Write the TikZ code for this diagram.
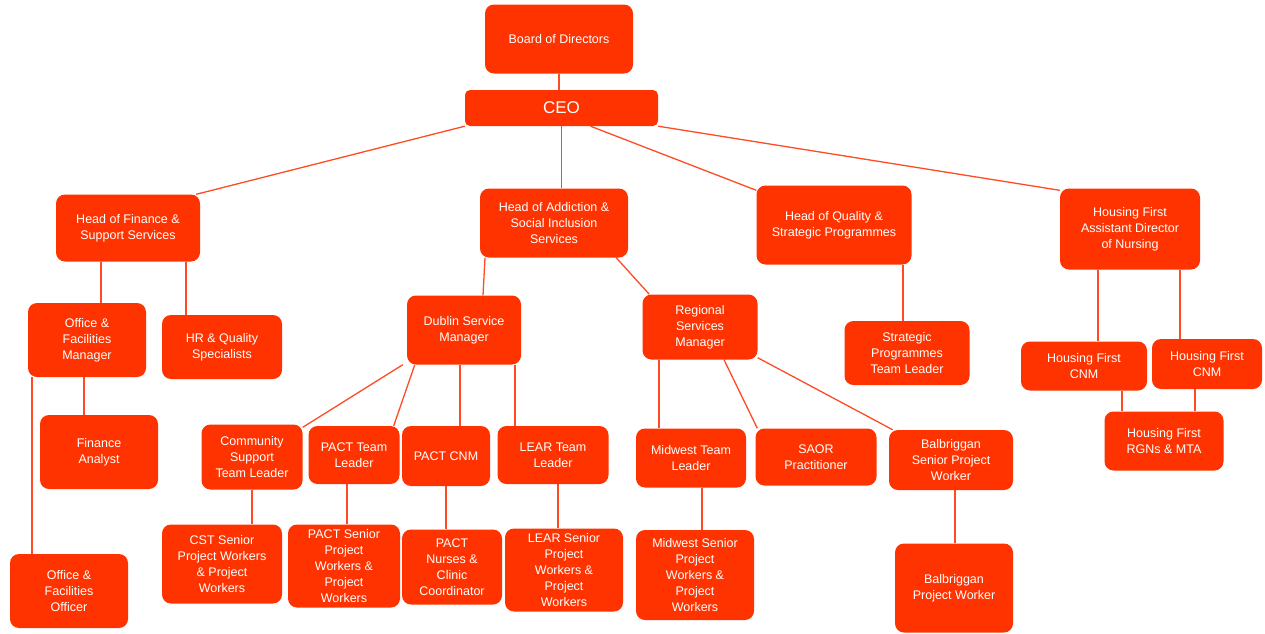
\documentclass[tikz,border=0pt]{standalone}
\usepackage{fontspec}
\setmainfont{Liberation Sans}
\usepackage{tikz}
\usetikzlibrary{positioning, backgrounds}
\definecolor{orgred}{RGB}{255,51,0}
\definecolor{orgline}{RGB}{255,75,35}

\begin{document}
\begin{tikzpicture}[
    x=1pt, y=-1pt,
    font=\fontsize{12.5}{16}\selectfont,
    box/.style={fill=orgred, text=white, rounded corners=9pt, inner sep=0pt, align=center},
    link/.style={draw=orgline, line width=1.3pt},
]
\useasboundingbox (0,0) rectangle (1265,633);

% Top
\node[box, minimum width=148, minimum height=69] (board) at (559,39) {Board of Directors};
\node[box, minimum width=193, minimum height=36, rounded corners=5pt, font=\fontsize{17}{20}\selectfont] (ceo) at (561.5,108) {CEO};

% Heads
\node[box, minimum width=144, minimum height=67] (fin) at (128,228) {Head of Finance \&\\Support Services};
\node[box, minimum width=148, minimum height=69] (addn) at (554,223) {Head of Addiction \&\\Social Inclusion\\Services};
\node[box, minimum width=155, minimum height=79] (qual) at (834,225) {Head of Quality \&\\Strategic Programmes};
\node[box, minimum width=140, minimum height=81] (hf) at (1130,229) {Housing First\\Assistant Director\\of Nursing};

% Finance side
\node[box, minimum width=118, minimum height=74] (offmgr) at (87,340) {Office \&\\Facilities\\Manager};
\node[box, minimum width=120, minimum height=64] (hrq) at (222,347) {HR \& Quality\\Specialists};
\node[box, minimum width=118, minimum height=74] (fa) at (99,452) {Finance\\Analyst};
\node[box, minimum width=118, minimum height=74] (offoff) at (69,591) {Office \&\\Facilities\\Officer};

% Addiction side
\node[box, minimum width=114, minimum height=69] (dublin) at (464,330) {Dublin Service\\Manager};
\node[box, minimum width=115, minimum height=65] (regional) at (700,327) {Regional\\Services\\Manager};

\node[box, minimum width=101, minimum height=65] (cst) at (252,457) {Community\\Support\\Team Leader};
\node[box, minimum width=91, minimum height=58] (pacttl) at (354,455) {PACT Team\\Leader};
\node[box, minimum width=88, minimum height=60] (pactcnm) at (446,456) {PACT CNM};
\node[box, minimum width=111, minimum height=58] (leartl) at (553,455) {LEAR Team\\Leader};

\node[box, minimum width=120, minimum height=79] (cstspw) at (222,564) {CST Senior\\Project Workers\\\& Project\\Workers};
\node[box, minimum width=112, minimum height=83] (pactspw) at (344,566) {PACT Senior\\Project\\Workers \&\\Project\\Workers};
\node[box, minimum width=100, minimum height=75] (nurses) at (452,567) {PACT\\Nurses \&\\Clinic\\Coordinator};
\node[box, minimum width=118, minimum height=83] (learspw) at (564,570) {LEAR Senior\\Project\\Workers \&\\Project\\Workers};

\node[box, minimum width=110, minimum height=59] (mwtl) at (691,458) {Midwest Team\\Leader};
\node[box, minimum width=121, minimum height=57] (saor) at (816,457) {SAOR\\Practitioner};
\node[box, minimum width=124, minimum height=60] (balbspw) at (951,460) {Balbriggan\\Senior Project\\Worker};
\node[box, minimum width=118, minimum height=90] (mwspw) at (695,575) {Midwest Senior\\Project\\Workers \&\\Project\\Workers};
\node[box, minimum width=118, minimum height=89] (balbpw) at (954,588) {Balbriggan\\Project Worker};

% Quality and Housing First
\node[box, minimum width=125, minimum height=64] (stratl) at (907,353) {Strategic\\Programmes\\Team Leader};
\node[box, minimum width=126, minimum height=49] (cnma) at (1084,366) {Housing First\\CNM};
\node[box, minimum width=110, minimum height=50] (cnmb) at (1207,364) {Housing First\\CNM};
\node[box, minimum width=119, minimum height=59] (rgn) at (1164,441) {Housing First\\RGNs \& MTA};

% Connectors
\begin{scope}[on background layer]
\draw[link] (board.south) -- (board.south |- ceo.north);
\draw[link] (ceo.south west) -- ([xshift=-4]fin.north east);
\draw[link] (ceo.south) -- (ceo.south |- addn.north);
\draw[link] ([xshift=29]ceo.south) -- ([yshift=-5]qual.north west);
\draw[link] (ceo.south east) -- ([yshift=-2]hf.north west);

\draw[link] ([xshift=-27]fin.south) -- ([xshift=-27]fin.south |- offmgr.north);
\draw[link] ([xshift=58]fin.south) -- ([xshift=58]fin.south |- hrq.north);
\draw[link] ([xshift=-3]offmgr.south) -- ([xshift=-3]offmgr.south |- fa.north);
\draw[link] ([xshift=-55]offmgr.south) -- ([xshift=-55]offmgr.south |- offoff.north);

\draw[link] ([xshift=-69]addn.south) -- ([xshift=19]dublin.north);
\draw[link] ([xshift=-12]addn.south east) -- ([xshift=7]regional.north west);

\draw[link] ([xshift=-4]dublin.south west) -- ([yshift=-3]cst.north east);
\draw[link] ([xshift=8]dublin.south west) -- ([xshift=-6]pacttl.north east);
\draw[link] ([xshift=-4]dublin.south) -- ([xshift=-4]dublin.south |- pactcnm.north);
\draw[link] ([xshift=51]dublin.south) -- ([xshift=51]dublin.south |- leartl.north);

\draw[link] (cst.south) -- (cst.south |- cstspw.north);
\draw[link] ([xshift=-7]pacttl.south) -- ([xshift=-7]pacttl.south |- pactspw.north);
\draw[link] (pactcnm.south) -- (pactcnm.south |- nurses.north);
\draw[link] ([xshift=5]leartl.south) -- ([xshift=5]leartl.south |- learspw.north);

\draw[link] ([xshift=-41]regional.south) -- ([xshift=-41]regional.south |- mwtl.north);
\draw[link] ([xshift=24]regional.south) -- ([xshift=2]saor.north west);
\draw[link] ([yshift=2]regional.south east) -- ([xshift=4]balbspw.north west);
\draw[link] ([xshift=11]mwtl.south) -- ([xshift=11]mwtl.south |- mwspw.north);
\draw[link] ([xshift=4]balbspw.south) -- ([xshift=4]balbspw.south |- balbpw.north);

\draw[link] ([xshift=69]qual.south) -- ([xshift=69]qual.south |- stratl.north);
\draw[link] ([xshift=-32]hf.south) -- ([xshift=-32]hf.south |- cnma.north);
\draw[link] ([xshift=50]hf.south) -- ([xshift=50]hf.south |- cnmb.north);
\draw[link] ([xshift=38]cnma.south) -- ([xshift=38]cnma.south |- rgn.north);
\draw[link] ([xshift=-12]cnmb.south) -- ([xshift=-12]cnmb.south |- rgn.north);
\end{scope}
\end{tikzpicture}
\end{document}
